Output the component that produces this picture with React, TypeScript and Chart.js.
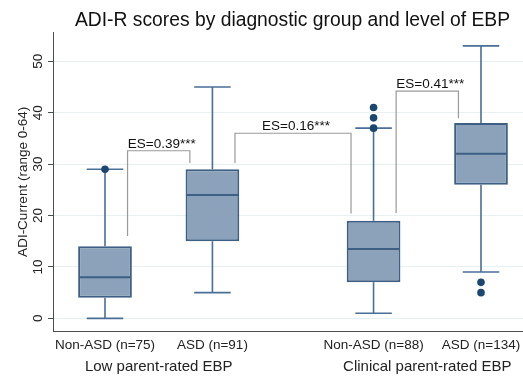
import React, { useEffect, useRef } from 'react';
import { Chart, registerables } from 'chart.js';

Chart.register(...registerables);

// ---- data ----
const titleText = 'ADI-R scores by diagnostic group and level of EBP';
const yAxisTitle = 'ADI-Current (range 0-64)';
const groupLabels = ['Non-ASD (n=75)', 'ASD (n=91)', 'Non-ASD (n=88)', 'ASD (n=134)'];
const groupPositions = [1, 2, 3.5, 4.5];
const ebpLabels = ['Low parent-rated EBP', 'Clinical parent-rated EBP'];
const ebpPositions = [1.5, 4];

const whiskerLow = [0, 5, 1, 9];
const quartile1 = [4, 15, 7, 26];
const medians = [8, 24, 13.5, 32];
const quartile3 = [14, 29, 19, 38];
const whiskerHigh = [29, 45, 37, 53];

const outlierGroup = [0, 2, 2, 2, 3, 3];
const outlierValues = [29, 37, 39, 41, 7, 5];

const yTicks = [0, 10, 20, 30, 40, 50];

const esLabels = ['ES=0.39***', 'ES=0.16***', 'ES=0.41***'];
const esFrom = [0, 1, 2];
const esTo = [1, 2, 3];
const esTop = [32.6, 36, 44.2];
const esLeftEnd = [16, 30.2, 20.5];
const esRightEnd = [30.2, 20.4, 38.9];

// ---- styles ----
const FONT = "'Liberation Sans', Arial, Helvetica, sans-serif";
const boxFill = '#8ba2ba';
const boxBorder = '#3d5f84';
const whiskerColor = '#4a6f96';
const outlierColor = '#1a476f';
const bracketColor = '#9a9a9a';
const axisColor = '#4d4d4d';
const gridColor = '#e9f0f2';

const titlePlugin = {
  id: 'plotTitle',
  afterDraw(chart: any) {
    const { ctx } = chart;
    ctx.save();
    ctx.fillStyle = '#111';
    ctx.font = `19.3px ${FONT}`;
    ctx.textAlign = 'center';
    ctx.textBaseline = 'middle';
    ctx.fillText(titleText, 292.5, 21);
    ctx.restore();
  },
};

const boxPartsPlugin = {
  id: 'boxParts',
  beforeDatasetsDraw(chart: any) {
    const { ctx, scales } = chart;
    const x = scales.x;
    const y = scales.y;
    ctx.save();
    ctx.strokeStyle = whiskerColor;
    ctx.lineWidth = 1.6;
    groupPositions.forEach((p, i) => {
      const cx = x.getPixelForValue(p);
      const hw = x.getPixelForValue(p + 0.17) - cx;
      const yHi = y.getPixelForValue(whiskerHigh[i]);
      const yLo = y.getPixelForValue(whiskerLow[i]);
      const yQ1 = y.getPixelForValue(quartile1[i]);
      const yQ3 = y.getPixelForValue(quartile3[i]);
      ctx.beginPath();
      ctx.moveTo(cx, yQ3);
      ctx.lineTo(cx, yHi);
      ctx.moveTo(cx - hw, yHi);
      ctx.lineTo(cx + hw, yHi);
      ctx.moveTo(cx, yQ1);
      ctx.lineTo(cx, yLo);
      ctx.moveTo(cx - hw, yLo);
      ctx.lineTo(cx + hw, yLo);
      ctx.stroke();
    });
    ctx.restore();
  },
  afterDatasetsDraw(chart: any) {
    const { ctx, scales } = chart;
    const x = scales.x;
    const y = scales.y;
    ctx.save();
    // medians
    ctx.strokeStyle = boxBorder;
    ctx.lineWidth = 2;
    groupPositions.forEach((p, i) => {
      const l = x.getPixelForValue(p - 0.25);
      const r = x.getPixelForValue(p + 0.25);
      const ym = y.getPixelForValue(medians[i]);
      ctx.beginPath();
      ctx.moveTo(l + 1, ym);
      ctx.lineTo(r - 1, ym);
      ctx.stroke();
    });
    // effect-size brackets
    ctx.strokeStyle = bracketColor;
    ctx.lineWidth = 1.2;
    ctx.fillStyle = '#111';
    ctx.font = `13.5px ${FONT}`;
    ctx.textAlign = 'center';
    ctx.textBaseline = 'alphabetic';
    esLabels.forEach((label, i) => {
      const lx = x.getPixelForValue(groupPositions[esFrom[i]] + 0.21);
      const rx = x.getPixelForValue(groupPositions[esTo[i]] - 0.21);
      const ty = y.getPixelForValue(esTop[i]);
      ctx.beginPath();
      ctx.moveTo(lx, y.getPixelForValue(esLeftEnd[i]));
      ctx.lineTo(lx, ty);
      ctx.lineTo(rx, ty);
      ctx.lineTo(rx, y.getPixelForValue(esRightEnd[i]));
      ctx.stroke();
      ctx.fillText(label, (lx + rx) / 2 + 3, ty - 3);
    });
    ctx.restore();
  },
};

export default function App() {
  const canvasRef = useRef<HTMLCanvasElement | null>(null);

  useEffect(() => {
    const canvas = canvasRef.current;
    if (!canvas) return;
    const xMin = 0.516;
    const xMax = 4.891;
    const chart = new Chart(canvas, {
      type: 'bar',
      data: {
        datasets: [
          {
            type: 'scatter',
            label: 'Outliers',
            data: outlierValues.map((v, i) => ({ x: groupPositions[outlierGroup[i]], y: v })),
            backgroundColor: outlierColor,
            borderColor: outlierColor,
            borderWidth: 0,
            pointRadius: 3.8,
            xAxisID: 'x',
            yAxisID: 'y',
          } as any,
          {
            type: 'bar',
            label: 'Boxes',
            data: groupPositions.map((p, i) => ({ x: p, y: [quartile1[i], quartile3[i]] })) as any,
            backgroundColor: boxFill,
            borderColor: boxBorder,
            borderWidth: 2,
            borderSkipped: false,
            categoryPercentage: 1,
            barPercentage: 0.5,
            xAxisID: 'x',
            yAxisID: 'y',
          } as any,
        ],
      },
      options: {
        animation: false,
        responsive: false,
        devicePixelRatio: 1,
        layout: { padding: { top: 32, left: 0, right: 0, bottom: 0 }, autoPadding: false },
        plugins: {
          legend: { display: false },
          tooltip: { enabled: false },
          title: { display: false },
        },
        scales: {
          x: {
            type: 'linear',
            position: 'bottom',
            weight: 0,
            min: xMin,
            max: xMax,
            offset: false,
            afterBuildTicks: (s: any) => {
              s.ticks = groupPositions.map((v) => ({ value: v }));
            },
            afterFit: (s: any) => {
              s.height = 22;
              s.paddingLeft = 0;
              s.paddingRight = 0;
            },
            ticks: {
              autoSkip: false,
              maxRotation: 0,
              minRotation: 0,
              padding: 5,
              color: '#222',
              font: { family: FONT, size: 13.5 },
              callback: (_v: any, i: number) => groupLabels[i],
            },
            grid: { display: false, drawTicks: false, tickLength: 0, offset: false },
            border: { display: true, color: axisColor, width: 1 },
          },
          xg: {
            type: 'linear',
            position: 'bottom',
            weight: 1,
            min: xMin,
            max: xMax,
            offset: false,
            afterBuildTicks: (s: any) => {
              s.ticks = ebpPositions.map((v) => ({ value: v }));
            },
            afterFit: (s: any) => {
              s.height = 22.3;
              s.paddingLeft = 0;
              s.paddingRight = 0;
            },
            ticks: {
              autoSkip: false,
              maxRotation: 0,
              minRotation: 0,
              padding: 4,
              color: '#222',
              font: { family: FONT, size: 15 },
              callback: (_v: any, i: number) => ebpLabels[i],
            },
            grid: { display: false, drawTicks: false, tickLength: 0, offset: false },
            border: { display: false },
          },
          y: {
            type: 'linear',
            position: 'left',
            min: -2.6,
            max: 55.7,
            beginAtZero: false,
            afterBuildTicks: (s: any) => {
              s.ticks = yTicks.map((v) => ({ value: v }));
            },
            afterFit: (s: any) => {
              s.width = 53;
              s.paddingTop = 0;
              s.paddingBottom = 0;
            },
            ticks: {
              minRotation: 90,
              maxRotation: 90,
              crossAlign: 'center',
              padding: 2.5,
              color: '#222',
              font: { family: FONT, size: 13.5 },
            },
            grid: {
              color: gridColor,
              tickColor: axisColor,
              tickLength: 5,
              lineWidth: 1,
            },
            border: { display: true, color: axisColor, width: 1 },
            title: {
              display: true,
              text: yAxisTitle,
              color: '#222',
              font: { family: FONT, size: 13.5, lineHeight: 1.2 },
              padding: { top: 15, bottom: 0 },
            },
          },
        },
      } as any,
      plugins: [boxPartsPlugin, titlePlugin],
    });
    return () => {
      chart.destroy();
    };
  }, []);

  return (
    <div style={{ position: 'absolute', left: 0, top: 0, width: 523, height: 376, background: '#fff' }}>
      <canvas ref={canvasRef} width={523} height={376} style={{ display: 'block' }} />
    </div>
  );
}
